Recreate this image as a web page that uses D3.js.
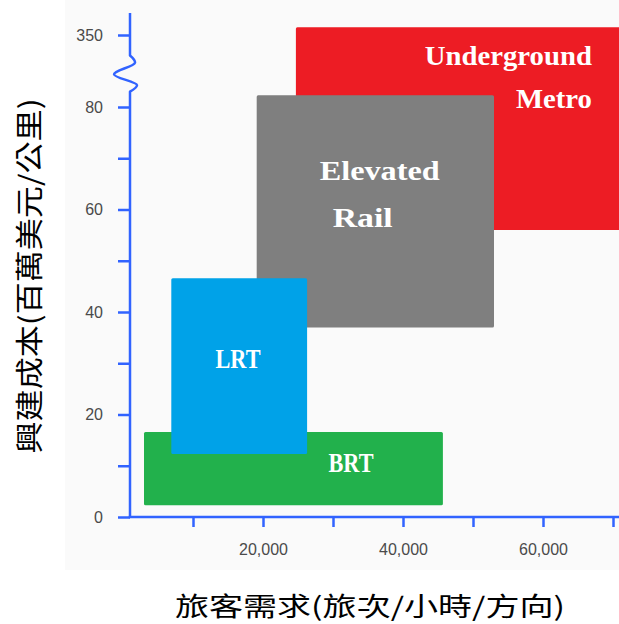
<!DOCTYPE html>
<html>
<head>
<meta charset="utf-8">
<script src="https://cdn.jsdelivr.net/npm/d3@7"></script>
<style>
  html, body { margin: 0; padding: 0; background: #ffffff; }
  svg { display: block; }
</style>
</head>
<body>
<svg id="chart" width="619" height="624"></svg>
<script>
// Transit modes: ridership range (trips/hour/direction) vs construction cost (US$ million/km)
const modes = ["Underground Metro", "Elevated Rail", "BRT", "LRT"];
const modeLines = [["Underground", "Metro"], ["Elevated", "Rail"], ["BRT"], ["LRT"]];
const demandLow = [24700, 19100, 3000, 6900];
const demandHigh = [72000, 53000, 45700, 26300];
const costLow = [56, 37, 2.3, 12.3];
const costHigh = [351.5, 82.3, 16.6, 46.6];
const modeColors = ["#ed1c24", "#7f7f7f", "#22b14c", "#00a2e8"];

// Axis ticks
const yMajorTicks = [0, 20, 40, 60, 80, 350];
const yMinorTicks = [10, 30, 50, 70];
const xTicks = [10000, 20000, 30000, 40000, 50000, 60000, 70000];
const xLabelTicks = [20000, 40000, 60000];

const xTitle = "旅客需求(旅次/小時/方向)";
const yTitle = "興建成本(百萬美元/公里)";

const svg = d3.select("#chart");
const axisColor = "#3163ff";

// Broken cost axis: a linear segment for 0–83, a compressed gap, then 346 upward
const pxPerUnit = 5.125;
const y0 = 517;
const y = d3.scaleLinear()
  .domain([0, 83, 346, 380])
  .range([y0, y0 - 83 * pxPerUnit, 35 + 4 * pxPerUnit, 35 - 30 * pxPerUnit]);
const x = d3.scaleLinear().domain([0, 70000]).range([123, 613]);
const xAxisStart = 130;

// faint plot backdrop
svg.append("rect")
  .attr("x", 65).attr("y", 0).attr("width", 554).attr("height", 570)
  .attr("fill", "#fafafa");

// range boxes
const boxes = svg.append("g");
modes.forEach((m, i) => {
  boxes.append("rect")
    .attr("x", x(demandLow[i]))
    .attr("y", y(costHigh[i]))
    .attr("width", x(demandHigh[i]) - x(demandLow[i]))
    .attr("height", y(costLow[i]) - y(costHigh[i]))
    .attr("rx", 1.5)
    .attr("fill", modeColors[i]);
});

// mode labels
const serifFont = "'Liberation Serif', 'DejaVu Serif', serif";
const labelSpecs = [
  { lines: modeLines[0], anchor: "end", xs: [x(demandLow[0]) + 296, x(demandLow[0]) + 296], ys: [65, 108], size: 28, charW: 15.2 },
  { lines: modeLines[1], anchor: "start", xs: [x(demandLow[1]) + 63, x(demandLow[1]) + 76], ys: [180, 227], size: 28, charW: 15 },
  { lines: modeLines[2], anchor: "middle", xs: [351], ys: [472], size: 28, fixedW: 45 },
  { lines: modeLines[3], anchor: "middle", xs: [238], ys: [368], size: 28, fixedW: 45 }
];
labelSpecs.forEach(s => {
  s.lines.forEach((t, j) => {
    const w = s.fixedW ? s.fixedW : s.charW * t.length;
    svg.append("text")
      .attr("x", s.xs[j]).attr("y", s.ys[j])
      .attr("text-anchor", s.anchor)
      .attr("font-family", serifFont)
      .attr("font-weight", "bold")
      .attr("font-size", s.size)
      .attr("textLength", w)
      .attr("lengthAdjust", "spacingAndGlyphs")
      .attr("fill", "#ffffff")
      .text(t);
  });
});

// y axis with ticks
const yAxis = d3.axisLeft(y)
  .tickValues(yMajorTicks.concat(yMinorTicks))
  .tickSize(12)
  .tickPadding(15)
  .tickFormat(d => yMajorTicks.includes(d) ? String(d) : "");
const gy = svg.append("g").attr("transform", `translate(${xAxisStart},0)`).call(yAxis);
gy.select(".domain").remove();
gy.selectAll(".tick line").attr("stroke", axisColor).attr("stroke-width", 2.5);
gy.selectAll(".tick text")
  .attr("font-family", "'Liberation Sans', Arial, sans-serif")
  .attr("font-size", 16)
  .attr("fill", "#4a4a4a");

// y axis line with break squiggle
const breakTop = y(346), breakBot = y(83);
const bh = breakBot - breakTop;
const squiggle = [
  [xAxisStart, breakTop],
  [xAxisStart + 5, breakTop + bh * 0.2],
  [xAxisStart - 16, breakTop + bh * 0.52],
  [xAxisStart + 7, breakTop + bh * 0.82],
  [xAxisStart, breakBot]
];
svg.append("path")
  .attr("d", "M" + xAxisStart + ",13 L" + xAxisStart + "," + breakTop +
    d3.line().curve(d3.curveCatmullRom.alpha(0.5))(squiggle).replace(/^M[^C]*/, "") +
    " L" + xAxisStart + "," + (y0 + 1))
  .attr("fill", "none")
  .attr("stroke", axisColor)
  .attr("stroke-width", 2.5)
  .attr("stroke-linejoin", "round");

// x axis
const xAxis = d3.axisBottom(x)
  .tickValues(xTicks)
  .tickSize(10)
  .tickPadding(17)
  .tickFormat(d => xLabelTicks.includes(d) ? d3.format(",")(d) : "");
const gx = svg.append("g").attr("transform", `translate(0,${y0})`).call(xAxis);
gx.select(".domain").remove();
gx.selectAll(".tick line").attr("stroke", axisColor).attr("stroke-width", 2.5);
gx.selectAll(".tick text")
  .attr("font-family", "'Liberation Sans', Arial, sans-serif")
  .attr("font-size", 16)
  .attr("fill", "#4a4a4a");
svg.append("line")
  .attr("x1", xAxisStart - 1.25).attr("x2", 619)
  .attr("y1", y0).attr("y2", y0)
  .attr("stroke", axisColor).attr("stroke-width", 2.5);

// axis titles
svg.append("text")
  .attr("x", 370).attr("y", 616)
  .attr("text-anchor", "middle")
  .attr("font-family", "'Noto Sans CJK TC', 'Noto Sans CJK SC', sans-serif")
  .attr("font-size", 26)
  .attr("textLength", 390)
  .attr("lengthAdjust", "spacingAndGlyphs")
  .attr("fill", "#000")
  .text(xTitle);

svg.append("text")
  .attr("transform", "translate(28,276) rotate(-90)")
  .attr("text-anchor", "middle")
  .attr("dominant-baseline", "central")
  .attr("font-family", "'Noto Sans CJK TC', 'Noto Sans CJK SC', sans-serif")
  .attr("font-size", 28)
  .attr("textLength", 355)
  .attr("lengthAdjust", "spacingAndGlyphs")
  .attr("fill", "#000")
  .text(yTitle);
</script>
</body>
</html>
